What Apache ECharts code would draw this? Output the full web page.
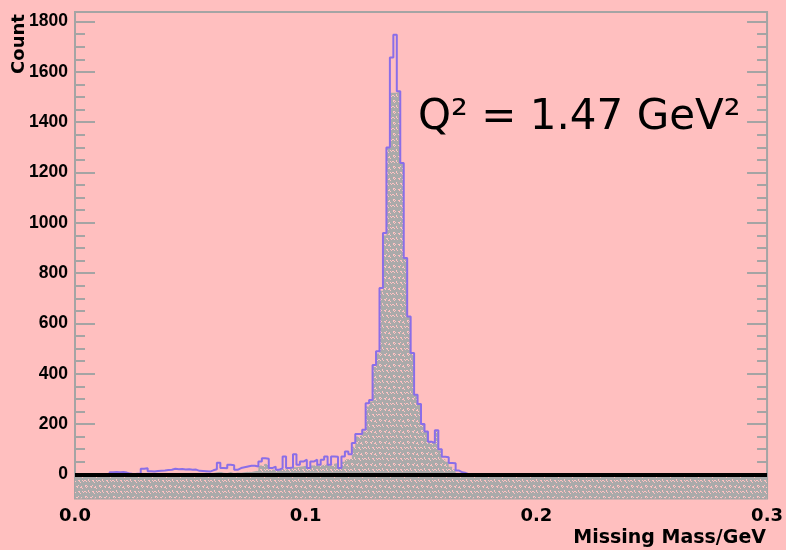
<!DOCTYPE html>
<html><head><meta charset="utf-8">
<script src="https://cdn.jsdelivr.net/npm/echarts@6/dist/echarts.min.js"></script>
<style>html,body{margin:0;padding:0;background:#ffbfbf}#c{width:786px;height:550px}</style>
</head><body><div id="c"></div>
<script>
// ---- data (200 bins of 0.0015 GeV from 0 to 0.3) ----
const binWidth = 0.0015;
const totalCounts = [
  0,0,0,0,0,0,0,0,0,0,
  8,9,8,9,7,3,0,2,3,22,
  24,12,11,13,14,15,17,18,22,20,
  21,19,20,18,19,14,13,12,11,16,
  20,46,25,24,38,36,18,25,28,31,
  34,34,31,51,64,62,25,31,18,25,
  71,25,27,80,38,51,58,25,51,58,
  38,58,71,38,71,70,25,71,91,80,
  125,160,160,177,283,296,435,489,741,959,
  1299,1657,1748,1523,1238,860,628,482,316,280,
  200,170,130,125,175,100,70,68,45,44,
  15,8,5,0,0,0,0,0,0,0,
  0,0,0,0,0,0,0,0,0,0,0,0,0,0,0,0,0,0,0,0,
  0,0,0,0,0,0,0,0,0,0,0,0,0,0,0,0,0,0,0,0,
  0,0,0,0,0,0,0,0,0,0,0,0,0,0,0,0,0,0,0,0,
  0,0,0,0,0,0,0,0,0,0,0,0,0,0,0,0,0,0,0,0
];
const selectedCounts = [
  0,0,0,0,0,0,0,0,0,0,
  0,0,0,0,0,0,0,0,0,0,
  0,0,0,0,0,0,0,0,0,0,
  0,0,0,0,0,0,4,6,3,5,
  8,10,6,5,9,4,7,6,8,10,
  9,12,15,35,42,38,18,20,15,22,
  18,25,20,28,30,32,35,22,35,38,
  33,38,40,35,42,45,25,50,60,64,
  110,150,155,170,270,290,430,480,730,950,
  1299,1517,1517,1523,1238,860,628,482,316,280,
  200,170,130,125,175,95,60,50,30,20,
  5,0,0,0,0,0,0,0,0,0,
  0,0,0,0,0,0,0,0,0,0,0,0,0,0,0,0,0,0,0,0,
  0,0,0,0,0,0,0,0,0,0,0,0,0,0,0,0,0,0,0,0,
  0,0,0,0,0,0,0,0,0,0,0,0,0,0,0,0,0,0,0,0,
  0,0,0,0,0,0,0,0,0,0,0,0,0,0,0,0,0,0,0,0
];
const xTickValues = [0, 0.1, 0.2, 0.3];
const yTickValues = [0,200,400,600,800,1000,1200,1400,1600,1800];
const yMinorValues = [-50,50,100,150,250,300,350,450,500,550,650,700,750,850,900,950,
  1050,1100,1150,1250,1300,1350,1450,1500,1550,1650,1700,1750];
const xLabelText = 'Missing Mass/GeV';
const yLabelText = 'Count';
const noteText = 'Q\u00B2 = 1.47 GeV\u00B2';

// ---- styles ----
const PINK = '#ffbfbf';
const FRAME = '#a4a4a4';
const patternPixels = [[1,1],[2,1],[1,2],[3,2],[2,3],[6,2],[7,2],[7,3],[8,1],[10,3],[11,3],[11,2],[12,4],
  [0,7],[1,7],[2,8],[4,6],[4,7],[5,8],[8,7],[9,7],[9,8],[10,9],[12,7],[13,8]];
function makePattern(){
  const c = document.createElement('canvas'); c.width = 14; c.height = 11;
  const g = c.getContext('2d');
  g.fillStyle = '#aaaaaa'; g.fillRect(0,0,14,11);
  g.fillStyle = '#ffc2c2';
  patternPixels.forEach(p => g.fillRect(p[0], p[1], 1, 1));
  return c;
}
function stepData(vals){
  const d = vals.map((v,i) => [i*binWidth, v]);
  d.push([vals.length*binWidth, vals[vals.length-1]]);
  return d;
}
const YMIN = -96, YMAX = 1838;
const chart = echarts.init(document.getElementById('c'), null, {renderer:'canvas'});
const yBase = {type:'value', min:YMIN, max:YMAX, splitLine:{show:false}, axisLine:{show:false}};
chart.setOption({
  animation:false,
  backgroundColor: PINK,
  grid:{left:75, right:18, top:12, bottom:51.5, show:true, borderColor:FRAME, borderWidth:2, backgroundColor:'transparent'},
  xAxis:[
    {type:'value', min:0, max:0.3, interval:0.1, position:'bottom', splitLine:{show:false}, axisLine:{show:false},
     axisTick:{show:false},
     axisLabel:{customValues:xTickValues, margin:9, color:'#000', fontFamily:'DejaVu Sans', fontWeight:'bold', fontSize:18,
       formatter:v=>v.toFixed(1)}},
    {type:'value', min:0, max:0.3, interval:0.1, position:'top', splitLine:{show:false}, axisLine:{show:false},
     axisLabel:{show:false}, axisTick:{inside:true, length:8, lineStyle:{color:FRAME, width:2}},
     minorTick:{show:true, splitNumber:20, length:4, lineStyle:{color:FRAME, width:2}}}
  ],
  yAxis:[
    Object.assign({}, yBase, {position:'left',
      axisTick:{inside:true, length:20, customValues:yTickValues, lineStyle:{color:FRAME, width:2}},
      axisLabel:{customValues:yTickValues, margin:7, color:'#000', fontFamily:'Liberation Sans', fontWeight:'bold', fontSize:17.5,
        padding:[5,0,0,0], formatter:v=>String(v)}}),
    Object.assign({}, yBase, {position:'left', axisLabel:{show:false},
      axisTick:{inside:true, length:10, customValues:yMinorValues, lineStyle:{color:FRAME, width:2}}}),
    Object.assign({}, yBase, {position:'right', axisLabel:{show:false},
      axisTick:{inside:true, length:20, customValues:yTickValues, lineStyle:{color:FRAME, width:2}}}),
    Object.assign({}, yBase, {position:'right', axisLabel:{show:false},
      axisTick:{inside:true, length:10, customValues:yMinorValues, lineStyle:{color:FRAME, width:2}}})
  ],
  series:[
    {type:'line', name:'selected', step:'end', data:stepData(selectedCounts), showSymbol:false, symbol:'none',
     lineStyle:{width:0}, areaStyle:{color:{image:makePattern(), repeat:'repeat'}, origin:'start', opacity:1}, z:2},
    {type:'line', name:'total', step:'end', data:stepData(totalCounts), showSymbol:false, symbol:'none',
     lineStyle:{color:'#8a6ee8', width:2}, z:3,
     markLine:{silent:true, symbol:['none','none'], label:{show:false}, data:[{yAxis:0}],
       lineStyle:{color:'#000', width:4, type:'solid'}}}
  ],
  graphic:[
    {type:'text', x:19, y:44, rotation:Math.PI/2, style:{text:yLabelText, fill:'#000', font:'bold 18px "DejaVu Sans"', textAlign:'center', textVerticalAlign:'middle'}},
    {type:'text', x:766, y:538, style:{text:xLabelText, fill:'#000', font:'bold 19px "DejaVu Sans"', textAlign:'right', textVerticalAlign:'middle'}},
    {type:'text', x:418, y:118, style:{text:noteText, fill:'#000', font:'42px "DejaVu Sans"', textAlign:'left', textVerticalAlign:'middle'}}
  ]
});
</script></body></html>
